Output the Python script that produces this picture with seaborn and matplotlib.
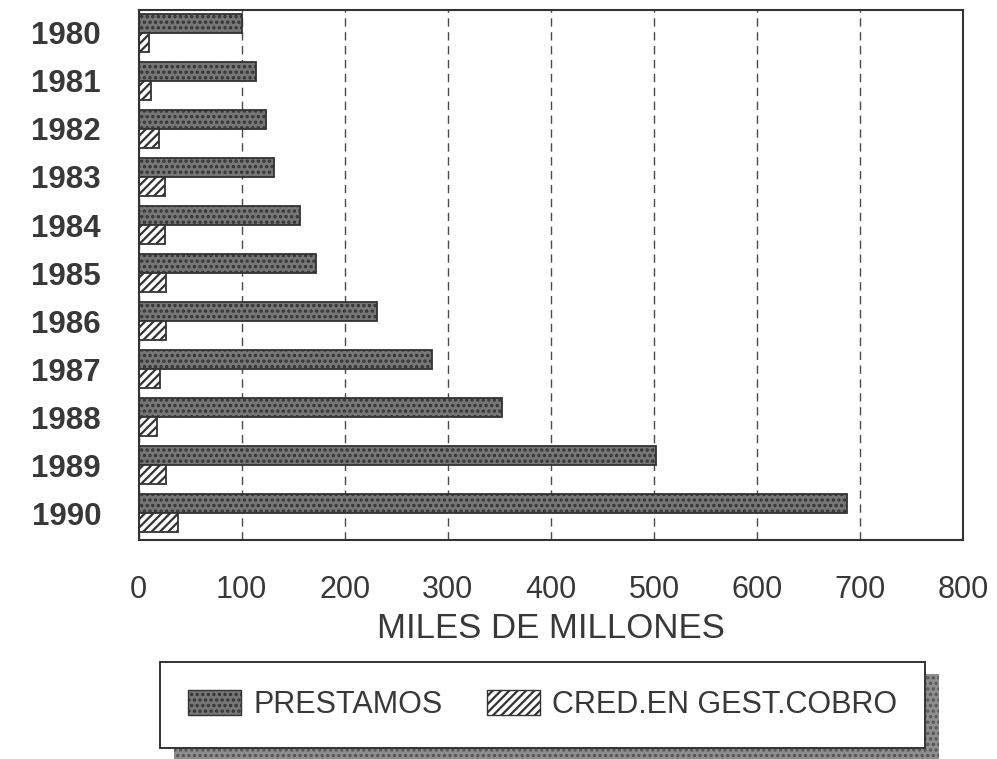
import pandas as pd
import matplotlib.pyplot as plt
import seaborn as sns
from matplotlib.patches import Patch, Rectangle

# Values (miles de millones)
years = ["1980", "1981", "1982", "1983", "1984", "1985",
         "1986", "1987", "1988", "1989", "1990"]
prestamos = [100, 114, 124, 131, 157, 172, 231, 285, 353, 502, 687]
cred_cobro = [10, 12, 20, 26, 26, 27, 27, 21, 18, 27, 38]
series = ["PRESTAMOS", "CRED.EN GEST.COBRO"]
x_ticks = [0, 100, 200, 300, 400, 500, 600, 700, 800]
x_tick_labels = ["0", "100", "200", "300", "400", "500", "600", "700", "800"]

df = pd.DataFrame({
    "year": years * 2,
    "serie": [series[0]] * len(years) + [series[1]] * len(years),
    "value": prestamos + cred_cobro,
})

sns.set_style("white")
plt.rcParams["font.family"] = ["Liberation Sans", "DejaVu Sans"]
plt.rcParams["hatch.linewidth"] = 1.6

fig, ax = plt.subplots(figsize=(9.97, 7.59), dpi=100)
fig.subplots_adjust(left=0.139, right=0.966, top=0.987, bottom=0.2885)

dark = "#767676"
ink = "#333333"

sns.barplot(data=df, y="year", x="value", hue="serie", hue_order=series,
            order=years, orient="h", width=0.8, dodge=True, errorbar=None,
            palette=[dark, "white"], saturation=1, legend=False, ax=ax)

# stippled dark bars, hatched light bars
for bar in ax.containers[0]:
    bar.set_hatch("...")
    bar.set_edgecolor(ink)
    bar.set_linewidth(1.3)
for bar in ax.containers[1]:
    bar.set_hatch("////")
    bar.set_edgecolor(ink)
    bar.set_linewidth(1.3)

ax.set_xlim(0, 800)
ax.set_ylim(10.56, -0.48)
ax.set_xticks(x_ticks)
ax.set_xticklabels(x_tick_labels)

# dashed vertical gridlines
ax.set_axisbelow(True)
ax.xaxis.grid(True, linestyle=(0, (6, 4)), color="#4a4a4a", linewidth=1.0)
ax.yaxis.grid(False)

for s in ax.spines.values():
    s.set_visible(True)
    s.set_color(ink)
    s.set_linewidth(1.5)

ax.tick_params(axis="x", direction="out", length=9.5, width=1.2, color=ink,
               pad=16, labelsize=22, labelcolor="#383838")
ax.tick_params(axis="y", direction="out", length=9, width=1.2, color=ink,
               pad=18, labelsize=22.5, labelcolor="#383838")
for lbl in ax.get_yticklabels():
    lbl.set_fontweight("bold")

ax.set_ylabel("")
ax.set_xlabel("MILES DE MILLONES", fontsize=25, color="#383838", labelpad=5)

# legend with drop shadow
handles = [
    Patch(facecolor=dark, edgecolor=ink, hatch="...", linewidth=1.0),
    Patch(facecolor="white", edgecolor=ink, hatch="////", linewidth=1.0),
]
leg = fig.legend(handles, series, loc="center", ncols=2, mode="expand",
                 bbox_to_anchor=(160 / 997, 1 - 747 / 759, 765 / 997, 84 / 759),
                 fontsize=22, frameon=True, fancybox=False, shadow=False,
                 handlelength=1.75, handleheight=0.9, handletextpad=0.4,
                 borderpad=0.9, borderaxespad=0)
for t in leg.get_texts():
    t.set_color("#383838")
frame = leg.get_frame()
frame.set_edgecolor(ink)
frame.set_linewidth(1.4)
frame.set_facecolor("white")
frame.set_alpha(1)

fig.canvas.draw()
bb = leg.get_window_extent().transformed(fig.transFigure.inverted())
dx, dy = 14 / 997, 12 / 759
fig.patches.append(Rectangle((bb.x0 + dx, bb.y0 - dy), bb.width, bb.height,
                             transform=fig.transFigure, facecolor="#8e8e8e",
                             edgecolor="#555555", linewidth=0, hatch="...",
                             zorder=4))
leg.set_zorder(5)

fig.savefig("out.png", dpi=100)
